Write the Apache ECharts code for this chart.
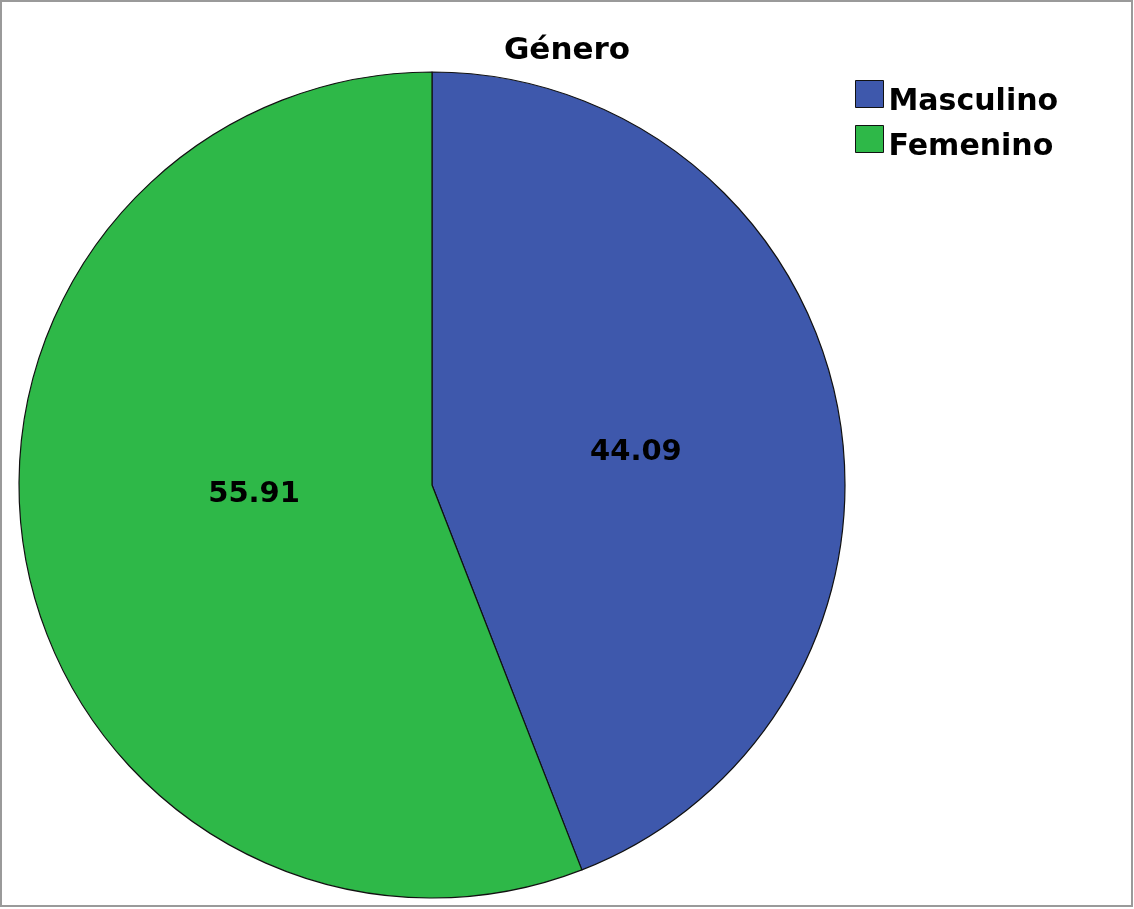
<!DOCTYPE html>
<html>
<head>
<meta charset="utf-8">
<script src="https://cdn.jsdelivr.net/npm/echarts@6/dist/echarts.min.js"></script>
<style>
html,body{margin:0;padding:0;background:#fff;}
#chart{width:1134px;height:909px;}
</style>
</head>
<body>
<div id="chart"></div>
<script>
var titleText = 'Género';
var categories = ['Masculino', 'Femenino'];
var values = [44.09, 55.91];
var colors = ['#3e58ac', '#2eb848'];
var labelOffsets = [[-2, 6], [28, -29]];

var chart = echarts.init(document.getElementById('chart'), null, {renderer: 'canvas'});
var data = categories.map(function (c, i) {
  return {
    name: c,
    value: values[i],
    itemStyle: {color: colors[i]},
    label: {offset: labelOffsets[i]}
  };
});
chart.setOption({
  animation: false,
  backgroundColor: '#fff',
  title: {
    text: titleText,
    left: 'center',
    top: 30,
    textStyle: {fontFamily: 'DejaVu Sans', fontWeight: 'bold', fontSize: 31, color: '#000'}
  },
  legend: {
    orient: 'vertical',
    left: 850,
    top: 66,
    itemWidth: 28,
    itemHeight: 27,
    itemGap: -1,
    icon: 'rect',
    data: categories,
    itemStyle: {borderColor: '#111', borderWidth: 1},
    formatter: function (name) { return '\n' + name; },
    textStyle: {fontFamily: 'DejaVu Sans', fontWeight: 'bold', fontSize: 30, lineHeight: 16, color: '#000'}
  },
  graphic: [{
    type: 'rect',
    shape: {x: 1, y: 1, width: 1131, height: 905},
    style: {fill: 'none', stroke: '#9a9a9a', lineWidth: 2},
    silent: true
  }],
  series: [{
    type: 'pie',
    center: [432, 485],
    radius: 413,
    startAngle: 90,
    clockwise: true,
    data: data,
    itemStyle: {borderColor: '#111', borderWidth: 1.2},
    label: {
      show: true,
      position: 'inside',
      formatter: function (p) { return p.value.toFixed(2); },
      fontFamily: 'DejaVu Sans',
      fontWeight: 'bold',
      fontSize: 29,
      color: '#000'
    },
    labelLine: {show: false},
    emphasis: {disabled: true}
  }]
});
</script>
</body>
</html>
